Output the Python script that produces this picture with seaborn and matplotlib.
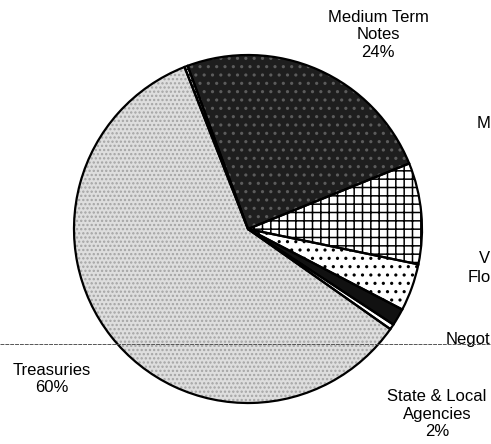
import matplotlib
matplotlib.use("Agg")
import matplotlib.pyplot as plt
import seaborn as sns

# slices clockwise from the top
slices = ["(thin)", "Medium Term Notes", "M", "V Flo", "State & Local Agencies", "Negot", "Treasuries"]
shares = [0.3, 24.5, 9.4, 4.4, 1.6, 0.5, 59.3]

face_cols = ["white", "#1e1e1e", "white", "white", "#111111", "white", "#dedede"]
hatches = ["---", "..", "++", "..", None, None, "...."]
hatch_cols = ["black", "#5c5c5c", "black", "black", "#111111", "white", "#a4a4a4"]

sns.set_style("white")
plt.rcParams["font.family"] = ["Liberation Sans", "DejaVu Sans"]
plt.rcParams["text.color"] = "black"
plt.rcParams["hatch.linewidth"] = 1.1

W, H = 491, 444
fig = plt.figure(figsize=(W / 100, H / 100), dpi=100)
ax = fig.add_axes([0, 0, 1, 1])

cx, cy, r = 248, H - 229, 174

# fill + hatch layer
wedges, _ = ax.pie(shares, colors=face_cols, startangle=111.4, counterclock=False,
                   center=(cx, cy), radius=r, wedgeprops=dict(linewidth=0))
for w, h, hc in zip(wedges, hatches, hatch_cols):
    if h:
        w.set_hatch(h)
        w.set_edgecolor(hc)
        w.set_linewidth(0)

# outline layer
ax.pie(shares, startangle=111.4, counterclock=False, center=(cx, cy), radius=r,
       wedgeprops=dict(fill=False, edgecolor="black", linewidth=1.6))

ax.set_xlim(0, W)
ax.set_ylim(0, H)
ax.set_aspect("equal")
ax.axis("off")

# scan line across the page
ax.axhline(H - 344, color="#555555", linewidth=0.7, linestyle=(0, (4, 1)), zorder=5)

fs = 12
kw = dict(fontsize=fs, color="black")
ax.text(378, H - 35, "Medium Term\nNotes\n24%", ha="center", va="center", linespacing=1.2, **kw)
ax.text(52, H - 379, "Treasuries\n60%", ha="center", va="center", linespacing=1.2, **kw)
ax.text(437, H - 414, "State & Local\nAgencies\n2%", ha="center", va="center", linespacing=1.2, **kw)
ax.text(477, H - 128, "M", ha="left", va="baseline", **kw)
ax.text(479, H - 263, "V", ha="left", va="baseline", **kw)
ax.text(468, H - 282, "Flo", ha="left", va="baseline", **kw)
ax.text(446, H - 344, "Negot", ha="left", va="baseline", **kw)

fig.savefig("out.png", dpi=100)
